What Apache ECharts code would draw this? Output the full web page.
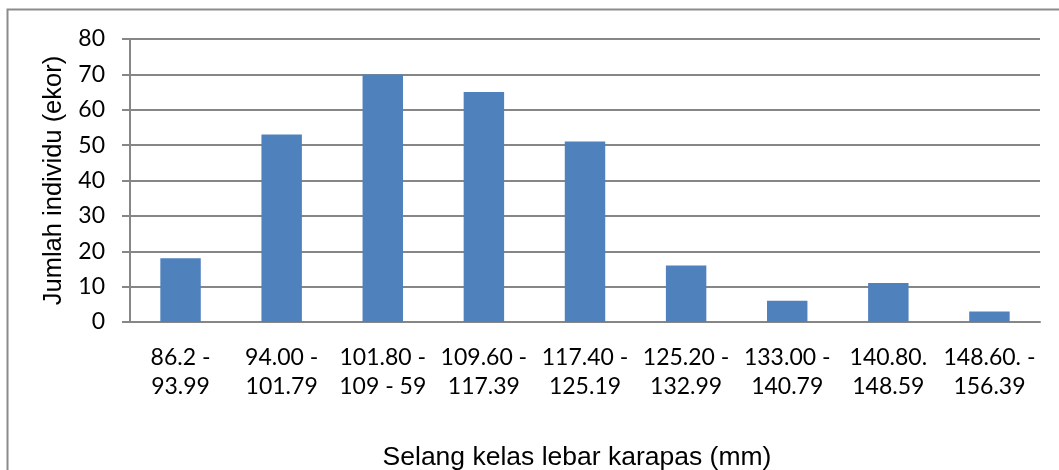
<!DOCTYPE html>
<html>
<head>
<meta charset="utf-8">
<script src="https://cdn.jsdelivr.net/npm/echarts@6/dist/echarts.min.js"></script>
<style>
  html, body { margin: 0; padding: 0; background: #ffffff; }
  #chart { width: 1059px; height: 470px; }
</style>
</head>
<body>
<div id="chart"></div>
<script>
// Carapace width classes (mm) and number of individuals per class
const categories = [
  '86.2 -\n93.99',
  '94.00 -\n101.79',
  '101.80 -\n109 - 59',
  '109.60 -\n117.39',
  '117.40 -\n125.19',
  '125.20 -\n132.99',
  '133.00 -\n140.79',
  '140.80.\n148.59',
  '148.60. -\n156.39'
];
const counts = [18, 53, 70, 65, 51, 16, 6, 11, 3];
const yTicks = { min: 0, max: 80, interval: 10 };
const xTitle = 'Selang kelas lebar karapas (mm)';
const yTitle = 'Jumlah individu (ekor)';

const chart = echarts.init(document.getElementById('chart'), null, { renderer: 'canvas' });
const tickFont = 'Lato, "Open Sans", sans-serif';
const titleFont = '"Liberation Sans", Arial, sans-serif';

chart.setOption({
  animation: false,
  backgroundColor: '#ffffff',
  graphic: [{
    type: 'rect',
    shape: { x: 7.5, y: 9.5, width: 1060, height: 500 },
    style: { fill: 'none', stroke: '#8c8c8c', lineWidth: 2 },
    z: -1
  }],
  grid: {
    left: 130, right: 19, top: 39, bottom: 148,
    containLabel: false,
    outerBoundsMode: 'none'
  },
  xAxis: {
    type: 'category',
    data: categories,
    name: xTitle,
    nameLocation: 'middle',
    nameGap: 122,
    nameTextStyle: { fontFamily: titleFont, fontSize: 26.5, color: '#000', padding: [0, 16, 0, 0] },
    axisLine: { lineStyle: { color: '#868686', width: 2 } },
    axisTick: { show: false },
    axisLabel: {
      interval: 0,
      fontFamily: tickFont,
      fontSize: 23,
      color: '#000',
      lineHeight: 29,
      margin: 21
    }
  },
  yAxis: {
    type: 'value',
    min: yTicks.min,
    max: yTicks.max,
    interval: yTicks.interval,
    name: yTitle,
    nameLocation: 'middle',
    nameGap: 63,
    nameRotate: 90,
    nameTextStyle: { fontFamily: titleFont, fontSize: 25.5, color: '#000' },
    axisLine: { show: true, lineStyle: { color: '#868686', width: 2 } },
    axisTick: { show: true, length: 8, lineStyle: { color: '#868686', width: 2 } },
    axisLabel: { fontFamily: tickFont, fontSize: 23, color: '#000', margin: 25 },
    splitLine: { lineStyle: { color: '#868686', width: 2 } }
  },
  series: [{
    type: 'bar',
    data: counts,
    barWidth: '40%',
    itemStyle: { color: '#4F81BD' }
  }]
});
</script>
</body>
</html>
